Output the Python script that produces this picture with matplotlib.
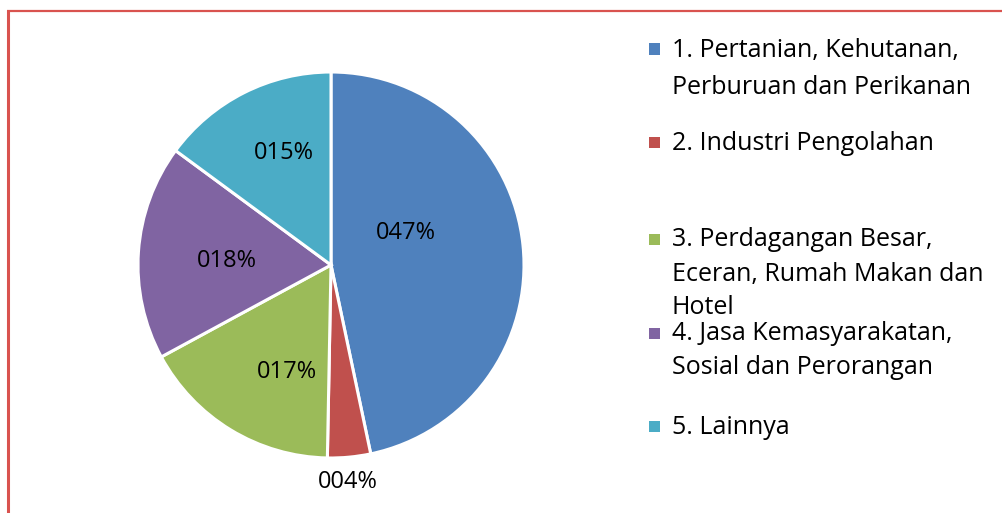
import numpy as np
import matplotlib
matplotlib.use("Agg")
import matplotlib.pyplot as plt
from matplotlib.lines import Line2D
from matplotlib.patches import Rectangle

categories = [
    "1. Pertanian, Kehutanan,\nPerburuan dan Perikanan",
    "2. Industri Pengolahan",
    "3. Perdagangan Besar,\nEceran, Rumah Makan dan\nHotel",
    "4. Jasa Kemasyarakatan,\nSosial dan Perorangan",
    "5. Lainnya",
]
values = [46.7, 3.6, 16.8, 18.0, 14.9]
colors = ["#4F81BD", "#C0504D", "#9BBB59", "#8064A2", "#4BACC6"]

# layout (label placement: radius fraction and angle nudge in degrees)
label_radius = [0.42, 1.13, 0.60, 0.54, 0.63]
label_nudge = [17, -1, 9, 2, -4]
legend_y_px = [50, 143, 240, 334, 427]
line_step = [37, 0, 34, 34, 0]

FONT = "Open Sans"
W, H = 1003, 513
fig = plt.figure(figsize=(W / 100, H / 100), dpi=100)

cx, cy, R = 331, 265, 193
ax = fig.add_axes([(cx - R) / W, (H - cy - R) / H, 2 * R / W, 2 * R / H])
wedges, _ = ax.pie(values, colors=colors, startangle=90, counterclock=False,
                   radius=1.0, wedgeprops=dict(edgecolor="white", linewidth=2.2))
ax.set_xlim(-1, 1)
ax.set_ylim(-1, 1)
ax.set_aspect("equal")
ax.axis("off")

for w, v, r, n in zip(wedges, values, label_radius, label_nudge):
    mid = np.deg2rad((w.theta1 + w.theta2) / 2 + n)
    ax.text(r * np.cos(mid), r * np.sin(mid), f"{v:03.0f}%", ha="center", va="center",
            fontsize=17, family=FONT, color="#000000")

# legend
for lab, col, ypx, step in zip(categories, colors, legend_y_px, line_step):
    s = 11
    fig.patches.append(Rectangle(((649) / W, (H - ypx - s / 2 + 1) / H), s / W, s / H,
                                 transform=fig.transFigure, facecolor=col, edgecolor="none"))
    for i, line in enumerate(lab.split("\n")):
        fig.text(672 / W, (H - ypx - i * step) / H, line, ha="left", va="center",
                 fontsize=18, family=FONT, color="#000000")

# frame
fig.add_artist(Line2D([8.5 / W, 8.5 / W], [0, 1 - 10 / H], transform=fig.transFigure,
                      color="#D9534F", linewidth=2.2, solid_capstyle="butt"))
fig.add_artist(Line2D([7.5 / W, 1], [1 - 11 / H, 1 - 11 / H], transform=fig.transFigure,
                      color="#D9534F", linewidth=1.6, solid_capstyle="butt"))

fig.savefig("out.png", dpi=100)
